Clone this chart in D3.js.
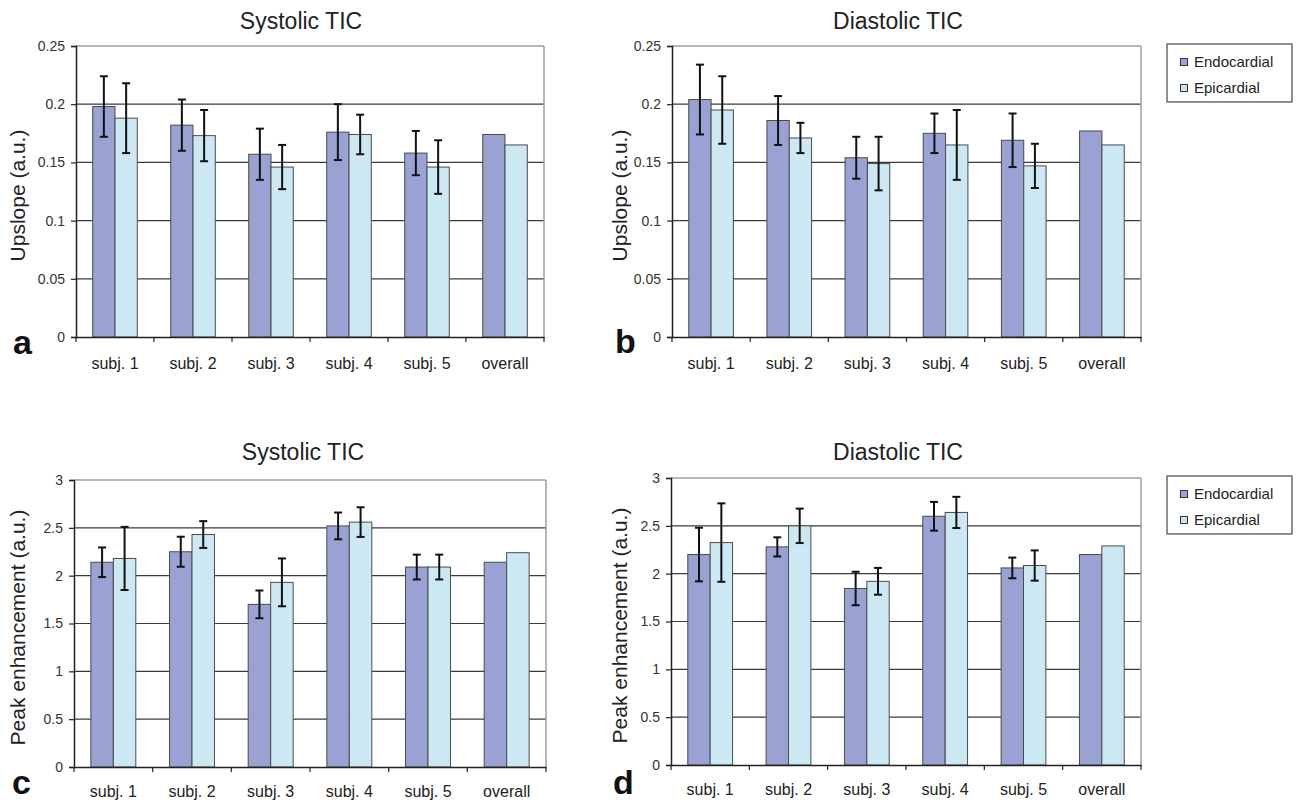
<!DOCTYPE html>
<html>
<head>
<meta charset="utf-8">
<script src="https://cdn.jsdelivr.net/npm/d3@7"></script>
<style>
  body { margin: 0; background: #fff; }
  svg { display: block; font-family: "Liberation Sans", Arial, sans-serif; }
</style>
</head>
<body>
<svg id="fig" width="1296" height="803"></svg>
<script>
// Categories and series
const categories = ['subj. 1', 'subj. 2', 'subj. 3', 'subj. 4', 'subj. 5', 'overall'];
const seriesNames = ['Endocardial', 'Epicardial'];

// a: systolic upslope
const sysUpEndo = [0.198, 0.182, 0.157, 0.176, 0.158, 0.174];
const sysUpEndoErr = [0.026, 0.022, 0.022, 0.024, 0.019, null];
const sysUpEpi = [0.188, 0.173, 0.146, 0.174, 0.146, 0.165];
const sysUpEpiErr = [0.030, 0.022, 0.019, 0.017, 0.023, null];

// b: diastolic upslope
const diaUpEndo = [0.204, 0.186, 0.154, 0.175, 0.169, 0.177];
const diaUpEndoErr = [0.030, 0.021, 0.018, 0.017, 0.023, null];
const diaUpEpi = [0.195, 0.171, 0.149, 0.165, 0.147, 0.165];
const diaUpEpiErr = [0.029, 0.013, 0.023, 0.030, 0.019, null];

// c: systolic peak enhancement
const sysPeEndo = [2.14, 2.25, 1.70, 2.52, 2.09, 2.14];
const sysPeEndoErr = [0.155, 0.157, 0.145, 0.14, 0.13, null];
const sysPeEpi = [2.18, 2.43, 1.93, 2.56, 2.09, 2.24];
const sysPeEpiErr = [0.33, 0.14, 0.25, 0.155, 0.13, null];

// d: diastolic peak enhancement
const diaPeEndo = [2.20, 2.28, 1.845, 2.60, 2.06, 2.20];
const diaPeEndoErr = [0.28, 0.10, 0.175, 0.15, 0.108, null];
const diaPeEpi = [2.325, 2.50, 1.92, 2.64, 2.085, 2.29];
const diaPeEpiErr = [0.41, 0.18, 0.14, 0.163, 0.158, null];

// Tick labels
const upTicks = [0, 0.05, 0.1, 0.15, 0.2, 0.25];
const peTicks = [0, 0.5, 1, 1.5, 2, 2.5, 3];

const colors = ['#9aa2d4', '#cce9f3'];

const svg = d3.select('#fig');

function drawPanel(p) {
    const g = svg.append('g');

    const x = d3.scaleBand().domain(categories).range([p.left, p.right]);
    // Excel gap width 150%: the pair of bars takes 2/3.5 of each category
    const xs = d3.scaleBand().domain(seriesNames)
        .range([x.bandwidth() * 0.75 / 3.5, x.bandwidth() * 2.75 / 3.5]).padding(0);

    const y = d3.scaleLinear().domain([0, p.max]).range([p.bottom, p.top]);

    // gridlines
    g.selectAll('.grid').data(p.ticks.slice(1, -1)).enter().append('line')
        .attr('x1', p.left).attr('x2', p.right)
        .attr('y1', d => y(d)).attr('y2', d => y(d))
        .attr('stroke', '#3a3a3a').attr('stroke-width', 1.2);

    // top & right border
    g.append('line').attr('x1', p.left).attr('x2', p.right)
        .attr('y1', y(p.max)).attr('y2', y(p.max))
        .attr('stroke', '#9aa0a8').attr('stroke-width', 1.5);
    g.append('line').attr('x1', p.right).attr('x2', p.right)
        .attr('y1', y(p.max)).attr('y2', y(0))
        .attr('stroke', '#9aa0a8').attr('stroke-width', 1.5);

    // bars
    const rows = [];
    categories.forEach((c, i) => {
        p.series.forEach((s, j) => {
            rows.push({ cat: c, name: seriesNames[j], v: s.v[i], e: s.e[i], j: j });
        });
    });

    g.selectAll('.bar').data(rows).enter().append('rect')
        .attr('x', d => x(d.cat) + xs(d.name))
        .attr('width', xs.bandwidth())
        .attr('y', d => y(d.v))
        .attr('height', d => y(0) - y(d.v))
        .attr('fill', d => colors[d.j])
        .attr('stroke', '#4a4a4a').attr('stroke-width', 1);

    // error bars
    const eb = g.selectAll('.err').data(rows.filter(d => d.e != null)).enter().append('g')
        .attr('stroke', '#111').attr('stroke-width', 2);
    const cx = d => x(d.cat) + xs(d.name) + xs.bandwidth() / 2;
    eb.append('line').attr('x1', cx).attr('x2', cx)
        .attr('y1', d => y(d.v + d.e)).attr('y2', d => y(d.v - d.e));
    eb.append('line').attr('x1', d => cx(d) - 4).attr('x2', d => cx(d) + 4)
        .attr('y1', d => y(d.v + d.e)).attr('y2', d => y(d.v + d.e));
    eb.append('line').attr('x1', d => cx(d) - 4).attr('x2', d => cx(d) + 4)
        .attr('y1', d => y(d.v - d.e)).attr('y2', d => y(d.v - d.e));

    // y axis
    const yAxis = d3.axisLeft(y).tickValues(p.ticks).tickSize(5).tickPadding(6)
        .tickFormat(d => String(d));
    const ya = g.append('g').attr('transform', `translate(${p.left},0)`).call(yAxis);
    ya.select('.domain').attr('stroke', '#222').attr('stroke-width', 1.5);
    ya.selectAll('.tick line').attr('stroke', '#222').attr('stroke-width', 1.2);
    ya.selectAll('.tick text').attr('fill', '#333').style('font-size', '14px')
        .style('font-family', '"Liberation Sans", Arial, sans-serif');

    // x axis
    const xAxis = d3.axisBottom(x).tickSize(0).tickPadding(p.labelPad);
    const xa = g.append('g').attr('transform', `translate(0,${p.bottom})`).call(xAxis);
    xa.select('.domain').attr('stroke', '#222').attr('stroke-width', 1.5);
    xa.selectAll('.tick text').attr('fill', '#222').style('font-size', '16px')
        .style('font-family', '"Liberation Sans", Arial, sans-serif');
    // category boundary ticks
    const bounds = categories.map(c => x(c)).concat([p.right]);
    g.selectAll('.bt').data(bounds).enter().append('line')
        .attr('x1', d => d).attr('x2', d => d)
        .attr('y1', p.bottom).attr('y2', p.bottom + 5)
        .attr('stroke', '#222').attr('stroke-width', 1.2);

    // title
    g.append('text').attr('x', p.titleX).attr('y', p.titleY)
        .attr('text-anchor', 'middle').attr('fill', '#222')
        .style('font-size', '23px').text(p.title);

    // y label
    g.append('text')
        .attr('transform', `translate(${p.ylabX},${(p.top + p.bottom) / 2 + 4}) rotate(-90)`)
        .attr('text-anchor', 'middle').attr('fill', '#222')
        .style('font-size', '21px').text(p.ylabel);

    // panel letter
    g.append('text').attr('x', p.letterX).attr('y', p.letterY)
        .attr('fill', '#111').style('font-size', '34px').style('font-weight', 'bold')
        .text(p.letter);

    // legend
    if (p.legend) {
        const lg = g.append('g').attr('transform', `translate(${p.legend[0]},${p.legend[1]})`);
        lg.append('rect').attr('width', 125).attr('height', 58)
            .attr('fill', '#fff').attr('stroke', '#555').attr('stroke-width', 1.3);
        seriesNames.forEach((n, j) => {
            lg.append('rect').attr('x', 13.5).attr('y', 14.5 + j * 26).attr('width', 7).attr('height', 7)
                .attr('fill', colors[j]).attr('stroke', '#333').attr('stroke-width', 1);
            lg.append('text').attr('x', 27).attr('y', 23 + j * 26)
                .attr('fill', '#222').style('font-size', '15px').text(n);
        });
    }
}

const panels = [
    { letter: 'a', title: 'Systolic TIC', ylabel: 'Upslope (a.u.)', max: 0.25, ticks: upTicks,
      series: [{ v: sysUpEndo, e: sysUpEndoErr }, { v: sysUpEpi, e: sysUpEpiErr }],
      left: 76, right: 544, top: 46, bottom: 337, titleX: 301, titleY: 29, ylabX: 25,
      letterX: 13, letterY: 354, labelPad: 21 },
    { letter: 'b', title: 'Diastolic TIC', ylabel: 'Upslope (a.u.)', max: 0.25, ticks: upTicks,
      series: [{ v: diaUpEndo, e: diaUpEndoErr }, { v: diaUpEpi, e: diaUpEpiErr }],
      left: 672, right: 1141, top: 46, bottom: 337, titleX: 898, titleY: 29, ylabX: 627,
      letterX: 615, letterY: 353, labelPad: 21, legend: [1167, 44] },
    { letter: 'c', title: 'Systolic TIC', ylabel: 'Peak enhancement (a.u.)', max: 3, ticks: peTicks,
      series: [{ v: sysPeEndo, e: sysPeEndoErr }, { v: sysPeEpi, e: sysPeEpiErr }],
      left: 74, right: 546, top: 480, bottom: 767, titleX: 303, titleY: 460, ylabX: 25,
      letterX: 12, letterY: 794, labelPad: 19 },
    { letter: 'd', title: 'Diastolic TIC', ylabel: 'Peak enhancement (a.u.)', max: 3, ticks: peTicks,
      series: [{ v: diaPeEndo, e: diaPeEndoErr }, { v: diaPeEpi, e: diaPeEpiErr }],
      left: 671, right: 1141, top: 478, bottom: 765, titleX: 898, titleY: 460, ylabX: 627,
      letterX: 613, letterY: 794, labelPad: 19, legend: [1167, 476] }
];

panels.forEach(drawPanel);
</script>
</body>
</html>
